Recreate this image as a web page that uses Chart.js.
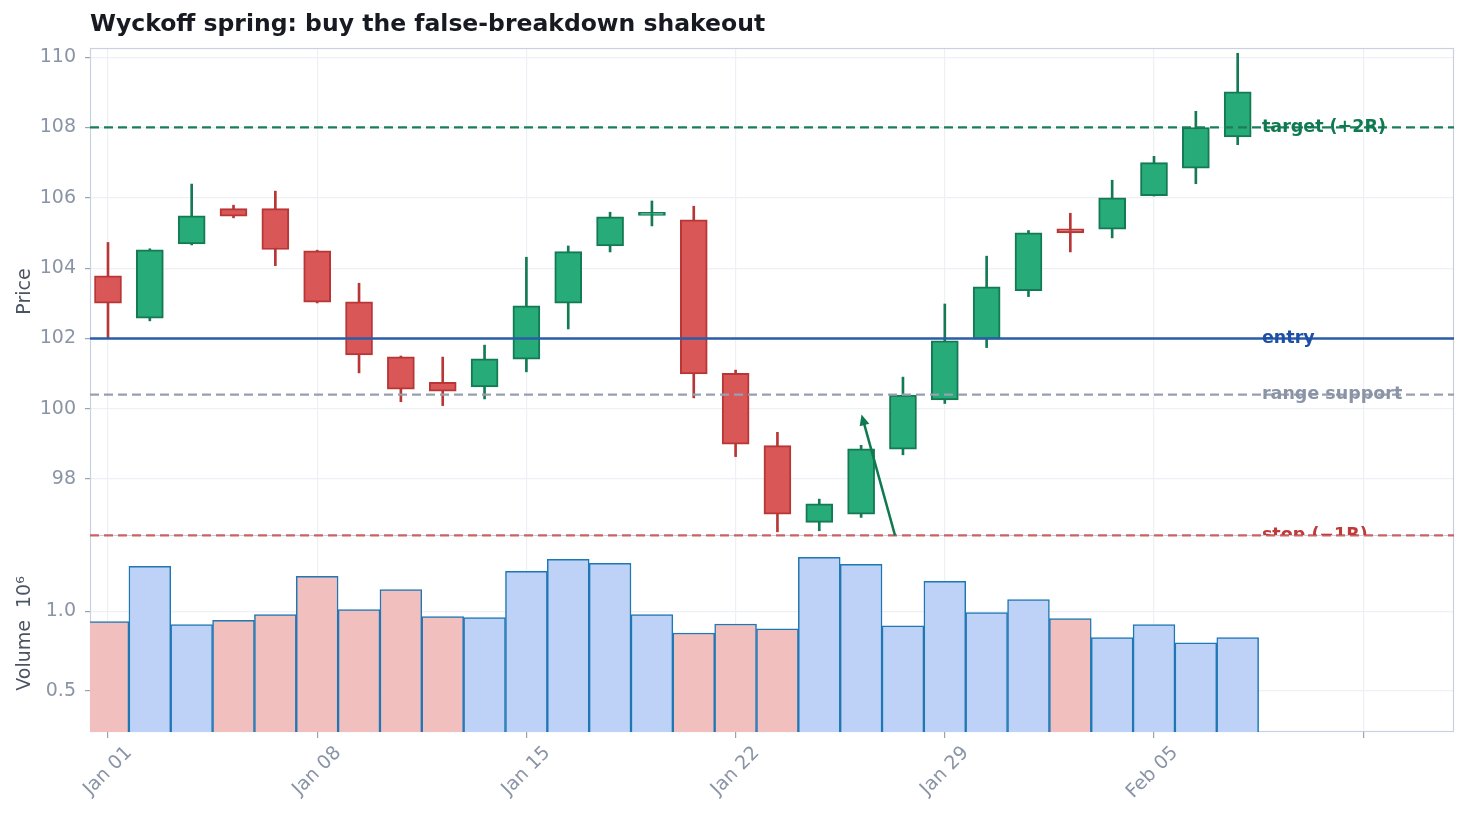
<!DOCTYPE html>
<html>
<head>
<meta charset="utf-8">
<script src="https://cdn.jsdelivr.net/npm/chart.js@4.4.1/dist/chart.umd.min.js"></script>
<style>
  html, body { margin: 0; padding: 0; background: #ffffff; }
  #wrap { width: 1466px; height: 818px; }
</style>
</head>
<body>
<div id="wrap"><canvas id="chart" width="1466" height="818"></canvas></div>
<script>
// ---- data (one candle per trading day, index 0 = Jan 01) ----
const opens  = [103.78, 102.58, 104.69, 105.69, 105.69, 104.49, 103.04, 101.48, 100.75, 100.62, 101.41, 103.00, 104.63, 105.50,
                105.37, 101.01, 98.95, 96.77, 97.00, 98.85, 100.25, 101.98, 103.36, 105.12, 105.11, 106.06, 106.84, 107.73];
const highs  = [104.73, 104.55, 106.39, 105.79, 106.19, 104.51, 103.57, 101.50, 101.47, 101.81, 104.31, 104.63, 105.59, 105.91,
                105.76, 101.10, 99.33, 97.43, 98.96, 100.90, 102.98, 104.34, 105.07, 105.56, 106.50, 107.18, 108.46, 110.11];
const lows   = [102.01, 102.50, 104.66, 105.43, 104.07, 103.01, 101.02, 100.20, 100.09, 100.28, 101.05, 102.27, 104.46, 105.20,
                100.31, 98.64, 96.50, 96.53, 96.91, 98.69, 100.15, 101.74, 103.19, 104.46, 104.86, 106.05, 106.40, 107.51];
const closes = [103.00, 104.52, 105.49, 105.48, 104.53, 103.03, 101.53, 100.56, 100.50, 101.42, 102.93, 104.47, 105.46, 105.52,
                100.99, 98.99, 97.00, 97.30, 98.86, 100.39, 101.93, 103.47, 105.00, 105.00, 106.00, 107.00, 108.00, 109.01];
const volumes = [0.935, 1.283, 0.916, 0.943, 0.979, 1.220, 1.011, 1.137, 0.966, 0.960, 1.251, 1.327, 1.302, 0.979,
                 0.863, 0.920, 0.890, 1.340, 1.295, 0.909, 1.188, 0.992, 1.074, 0.954, 0.834, 0.916, 0.802, 0.834];

const tickPos    = [0, 5, 10, 15, 20, 25, 30];
const tickLabels = ['Jan 01', 'Jan 08', 'Jan 15', 'Jan 22', 'Jan 29', 'Feb 05', ''];

// trade levels
const levelNames  = ['target (+2R)', 'entry', 'range support', 'stop (\u22121R)'];
const levelValues = [108.0, 102.0, 100.4, 96.4];

// spring annotation arrow (tail -> head, in data units)
const arrowFrom = { x: 18.81, y: 96.4 };
const arrowTo   = { x: 18.01, y: 99.84 };

const X_MIN = -0.43, X_MAX = 32.17;
const LABEL_X = 27.58;

// ---- styling ----
const UP_FILL = '#27ab78', UP_LINE = '#137a54';
const DN_FILL = '#d95757', DN_LINE = '#b83636';
const VOL_UP = '#bdd2f6', VOL_DN = '#f0bfbe', VOL_LINE = '#1f77b4';
const GRID = '#edf0f5', FRAME = '#c9d1e0', TICK_TXT = '#8a94a6', AXIS_TTL = '#4b5363';
const FONT = "'DejaVu Sans', sans-serif";

const levelStyle = [
  { color: '#1a7f57', text: '#0f7a4f', dash: [9, 5], width: 2.2 },
  { color: '#2b5ca8', text: '#1d4fa6', dash: [],     width: 2.5 },
  { color: '#97a0ae', text: '#8a94a6', dash: [9, 5], width: 2.2 },
  { color: '#cc6262', text: '#c03a3a', dash: [9, 5], width: 2.4 },
];

const isUp = closes.map((c, i) => c >= opens[i]);

const wickData = lows.map((l, i) => ({ x: i, y: [l, highs[i]] }));
const bodyData = opens.map((o, i) => ({ x: i, y: [o, closes[i]] }));
const volData  = volumes.map((v, i) => ({ x: i, y: v }));

const levelSets = levelValues.map((v, k) => ({
  type: 'line',
  yAxisID: 'yPrice',
  data: [{ x: X_MIN, y: v }, { x: X_MAX, y: v }],
  borderColor: levelStyle[k].color,
  borderWidth: levelStyle[k].width,
  borderDash: levelStyle[k].dash,
  pointRadius: 0,
  clip: false,
  order: 1,
}));

const overlay = {
  id: 'overlay',
  beforeDatasetsDraw(chart) {
    // pane frames sit under the data
    const { ctx, chartArea } = chart;
    const yp = chart.scales.yPrice;
    ctx.save();
    ctx.strokeStyle = FRAME;
    ctx.lineWidth = 1.2;
    ctx.strokeRect(chartArea.left + 0.5, chartArea.top + 0.5,
      chartArea.right - chartArea.left - 1, chartArea.bottom - chartArea.top - 1);
    ctx.beginPath();
    ctx.moveTo(chartArea.left, Math.round(yp.bottom) + 0.5);
    ctx.lineTo(chartArea.right, Math.round(yp.bottom) + 0.5);
    ctx.stroke();
    ctx.restore();
  },
  afterDatasetsDraw(chart) {
    const { ctx, chartArea } = chart;
    const xs = chart.scales.x, yp = chart.scales.yPrice;

    // level labels, clipped to the price pane
    ctx.save();
    ctx.beginPath();
    ctx.rect(chartArea.left, yp.top, chartArea.right - chartArea.left, yp.bottom - yp.top);
    ctx.clip();
    ctx.font = 'bold 17.5px ' + FONT;
    ctx.textBaseline = 'middle';
    ctx.textAlign = 'left';
    levelNames.forEach((name, k) => {
      ctx.fillStyle = levelStyle[k].text;
      ctx.fillText(name, xs.getPixelForValue(LABEL_X), yp.getPixelForValue(levelValues[k]));
    });
    ctx.restore();

    // arrow
    const x0 = xs.getPixelForValue(arrowFrom.x), y0 = yp.getPixelForValue(arrowFrom.y);
    const x1 = xs.getPixelForValue(arrowTo.x),   y1 = yp.getPixelForValue(arrowTo.y);
    const ang = Math.atan2(y1 - y0, x1 - x0);
    const hl = 11, hw = 5;
    ctx.save();
    ctx.strokeStyle = '#0f7a50';
    ctx.fillStyle = '#0f7a50';
    ctx.lineWidth = 2.5;
    ctx.beginPath();
    ctx.moveTo(x0, y0);
    ctx.lineTo(x1 - Math.cos(ang) * hl * 0.8, y1 - Math.sin(ang) * hl * 0.8);
    ctx.stroke();
    ctx.beginPath();
    ctx.moveTo(x1, y1);
    ctx.lineTo(x1 - Math.cos(ang) * hl + Math.sin(ang) * hw, y1 - Math.sin(ang) * hl - Math.cos(ang) * hw);
    ctx.lineTo(x1 - Math.cos(ang) * hl - Math.sin(ang) * hw, y1 - Math.sin(ang) * hl + Math.cos(ang) * hw);
    ctx.closePath();
    ctx.fill();
    ctx.restore();
  },
  afterDraw(chart) {
    const { ctx, chartArea } = chart;
    ctx.save();
    ctx.fillStyle = '#171a21';
    ctx.font = 'bold 23.5px ' + FONT;
    ctx.textAlign = 'left';
    ctx.textBaseline = 'alphabetic';
    ctx.fillText('Wyckoff spring: buy the false-breakdown shakeout', chartArea.left, 31);
    ctx.restore();
  }
};

new Chart(document.getElementById('chart'), {
  data: {
    datasets: [
      {
        type: 'bar',
        yAxisID: 'yPrice',
        data: bodyData,
        grouped: false,
        barThickness: 27,
        minBarLength: 3,
        backgroundColor: isUp.map(u => u ? UP_FILL : DN_FILL),
        borderColor: isUp.map(u => u ? UP_LINE : DN_LINE),
        borderWidth: 2,
        borderSkipped: false,
        order: 2,
      },
      {
        type: 'bar',
        yAxisID: 'yPrice',
        data: wickData,
        grouped: false,
        barThickness: 2,
        backgroundColor: isUp.map(u => u ? UP_LINE : DN_LINE),
        borderWidth: 0,
        order: 3,
      },
      ...levelSets,
      {
        type: 'bar',
        yAxisID: 'yVol',
        data: volData,
        grouped: false,
        barPercentage: 1,
        categoryPercentage: 1,
        backgroundColor: isUp.map(u => u ? VOL_UP : VOL_DN),
        borderColor: VOL_LINE,
        borderWidth: 1.5,
        borderSkipped: false,
        order: 4,
      },
    ],
  },
  options: {
    responsive: false,
    animation: false,
    events: [],
    layout: { padding: { top: 48, left: 12, right: 12, bottom: 0 } },
    plugins: {
      legend: { display: false },
      tooltip: { enabled: false },
      title: { display: false },
    },
    scales: {
      x: {
        type: 'linear',
        position: 'bottom',
        offset: false,
        min: X_MIN,
        max: X_MAX,
        afterBuildTicks: (s) => { s.ticks = tickPos.map(v => ({ value: v })); },
        afterFit: (s) => { s.height = 86; },
        ticks: {
          callback: (v) => tickLabels[tickPos.indexOf(v)] ?? '',
          minRotation: 45,
          maxRotation: 45,
          autoSkip: false,
          labelOffset: 21,
          color: TICK_TXT,
          font: { family: FONT, size: 19 },
          padding: 4,
        },
        grid: { offset: false, color: GRID, tickColor: '#9aa2b0', tickLength: 6, lineWidth: 1.2 },
        border: { display: false },
      },
      yVol: {
        type: 'linear',
        position: 'left',
        stack: 'panes',
        stackWeight: 197,
        min: 0.24,
        max: 1.48,
        afterFit: (s) => { s.width = 78; },
        ticks: {
          stepSize: 0.5,
          includeBounds: false,
          callback: (v) => v.toFixed(1),
          color: TICK_TXT,
          font: { family: FONT, size: 19 },
          padding: 9,
        },
        title: { display: true, text: 'Volume  10\u2076', color: AXIS_TTL, font: { family: FONT, size: 19 }, padding: { top: 2, bottom: 0 } },
        grid: { color: GRID, tickColor: '#9aa2b0', tickLength: 5, lineWidth: 1.2 },
        border: { display: false },
      },
      yPrice: {
        type: 'linear',
        position: 'left',
        stack: 'panes',
        stackWeight: 487,
        min: 96.41,
        max: 110.26,
        afterFit: (s) => { s.width = 78; },
        ticks: {
          stepSize: 2,
          includeBounds: false,
          color: TICK_TXT,
          font: { family: FONT, size: 19 },
          padding: 9,
        },
        title: { display: true, text: 'Price', color: AXIS_TTL, font: { family: FONT, size: 19 }, padding: { top: 2, bottom: 0 } },
        grid: { color: GRID, tickColor: '#9aa2b0', tickLength: 5, lineWidth: 1.2 },
        border: { display: false },
      },
    },
  },
  plugins: [overlay],
});
</script>
</body>
</html>
